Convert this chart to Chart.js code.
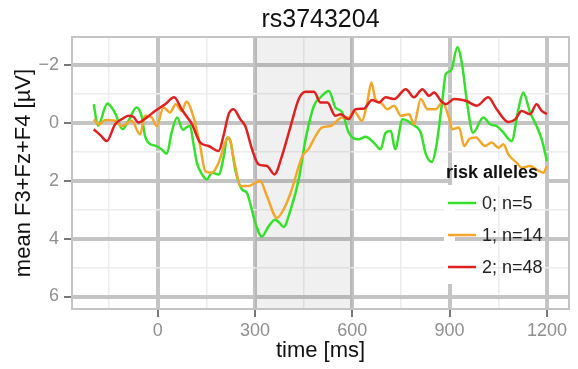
<!DOCTYPE html>
<html>
<head>
<meta charset="utf-8">
<script src="https://cdn.jsdelivr.net/npm/chart.js@4.4.1/dist/chart.umd.min.js"></script>
<style>
  html, body { margin: 0; padding: 0; background: #fff; }
  #wrap { width: 578px; height: 369px; position: relative; }
</style>
</head>
<body>
<div id="wrap"><canvas id="erpChart"></canvas></div>
<script>
// ERP traces (time in ms, amplitude in µV)
const greenTime = [-197,-184,-155,-132,-108,-90,-65,-49,-39,-29,-5,12,28,43,60,78,88,100,110,121,135,152,167,188,205,214,224,239,260,275,288,301,321,342,362,375,388,410,435,456,482,502,528,548,569,589,620,641,666,687,703,719,732,755,770,785,811,827,845,859,878,888,904,924,939,955,972,1004,1025,1045,1066,1091,1112,1127,1148,1168,1184,1200];
const greenAmp = [-0.63,0.11,-0.66,-0.34,0.23,-0.06,-0.52,-0.2,0.46,0.69,0.81,0.92,1.08,0.35,-0.17,0.25,0.17,0.12,0.7,1.39,1.75,1.96,1.73,1.79,1.1,0.52,0.63,1.62,2.31,2.42,2.9,3.46,3.93,3.58,3.35,3.45,3.6,3.0,1.96,0.58,-0.58,-0.87,-1.09,-0.52,-0.35,0.35,0.58,0.49,0.69,0.92,0.35,0.29,0.92,-0.11,-0.06,0.06,0.35,1.10,1.36,0.81,-0.81,-1.67,-1.79,-2.60,-1.96,-0.58,0.35,-0.17,0.06,0.12,0.35,0.64,-0.46,-1.04,-0.35,0.12,0.58,1.33];

const orangeTime = [-197,-180,-162,-131,-111,-80,-54,-39,-18,-3,18,38,56,74,89,111,131,147,167,188,208,219,239,255,280,301,316,337,368,388,410,446,466,487,507,533,569,589,605,630,646,659,671,690,708,729,750,775,790,811,832,857,878,898,908,929,945,960,981,1009,1030,1050,1066,1081,1107,1122,1148,1168,1189,1200];
const orangeAmp = [-0.11,0.06,-0.09,-0.06,0.12,-0.06,0.41,-0.23,-0.17,0.12,-0.52,-0.35,-0.63,-0.40,-0.72,-0.17,0.81,1.68,1.73,1.39,0.69,0.52,1.50,2.19,2.19,2.08,2.02,2.54,3.29,3.0,2.42,1.16,0.90,0.46,0.17,0.12,-0.17,-0.17,-0.40,-0.06,-0.69,-1.38,-0.81,-0.66,-0.46,-0.58,-0.23,-0.29,0.06,-0.81,-0.46,-0.46,-0.69,-0.17,0.23,0.17,0.81,0.58,0.52,0.81,0.69,0.87,0.75,1.10,1.39,1.56,1.50,1.62,1.73,1.50];

const redTime = [-197,-175,-157,-131,-110,-90,-75,-59,-34,-8,23,51,74,90,106,131,157,188,203,219,234,255,270,291,311,337,360,383,410,435,456,482,502,523,548,564,589,610,636,661,682,703,729,765,790,816,837,852,873,888,914,950,984,1019,1045,1081,1102,1122,1148,1168,1184,1200];
const redAmp = [0.23,0.45,0.64,0.06,-0.12,-0.23,-0.2,0,-0.17,-0.40,-0.63,-0.87,-0.46,-0.2,0.06,0.69,0.81,0.98,0.46,-0.29,-0.46,-0.11,0.12,0.92,1.44,1.50,1.79,1.16,0.12,-0.81,-1.06,-1.06,-0.69,-0.69,-0.23,-0.29,-0.11,-0.46,-0.48,-0.78,-0.69,-0.87,-0.81,-1.15,-0.87,-1.15,-0.92,-1.04,-0.75,-0.63,-0.81,-0.75,-0.58,-0.87,-0.46,-0.02,-0.11,-0.40,-0.29,-0.63,-0.40,-0.29];

const seriesLabels = ['0; n=5', '1; n=14', '2; n=48'];
const seriesColors = ['#35e02a', '#f2a72c', '#de2020'];

const xMajorTicks = [0, 300, 600, 900, 1200];
const xMinorTicks = [-150, 150, 450, 750, 1050];
const yMajorTicks = [-2, 0, 2, 4, 6];
const yMinorTicks = [-1, 1, 3, 5];
const yTickLabels = ['\u22122', '0', '2', '4', '6'];
const shadeWindow = [300, 600];

const FONT = '"Liberation Sans", Arial, Helvetica, sans-serif';
Chart.defaults.font.family = FONT;

function toPoints(times, amps) {
    return times.map((t, i) => ({ x: t, y: amps[i] }));
}

function isMajor(ctx, majors) {
    return ctx.tick && majors.includes(ctx.tick.value);
}

// shaded window, panel frame, title and the ggplot-like legend
const decorPlugin = {
    id: 'decor',
    beforeDatasetsDraw(chart) {
        const { ctx, chartArea: a, scales: { x } } = chart;
        ctx.save();
        const x0 = x.getPixelForValue(shadeWindow[0]);
        const x1 = x.getPixelForValue(shadeWindow[1]);
        ctx.fillStyle = 'rgba(0,0,0,0.06)';
        ctx.fillRect(x0, a.top, x1 - x0, a.bottom - a.top);

        // legend background pieces (hide grid behind legend)
        ctx.fillStyle = '#fff';
        ctx.fillRect(444, 185, 11, 99);
        ctx.fillRect(452, 160, 93, 25);

        ctx.strokeStyle = '#c4c4c4';
        ctx.lineWidth = 2;
        ctx.strokeRect(a.left, a.top, a.right - a.left, a.bottom - a.top);
        ctx.restore();
    },
    afterDraw(chart) {
        const { ctx, chartArea: a } = chart;
        ctx.save();
        ctx.fillStyle = '#111';
        ctx.textAlign = 'center';
        ctx.textBaseline = 'middle';
        ctx.font = '25px ' + FONT;
        ctx.fillText('rs3743204', (a.left + a.right) / 2, 20);

        ctx.textAlign = 'left';
        ctx.font = 'bold 18px ' + FONT;
        ctx.fillText('risk alleles', 446, 173);

        ctx.font = '18px ' + FONT;
        seriesLabels.forEach((lbl, i) => {
            const y = 203 + 32 * i;
            ctx.strokeStyle = seriesColors[i];
            ctx.lineWidth = 2.5;
            ctx.beginPath();
            ctx.moveTo(448, y);
            ctx.lineTo(476, y);
            ctx.stroke();
            ctx.fillStyle = '#222';
            ctx.fillText(lbl, 482, y + 1);
        });
        ctx.restore();
    }
};

function makeDataset(label, times, amps, color, order) {
    return {
        label: label,
        data: toPoints(times, amps),
        borderColor: color,
        backgroundColor: color,
        borderWidth: 2.5,
        pointRadius: 0,
        cubicInterpolationMode: 'monotone',
        fill: false,
        order: order
    };
}

new Chart(document.getElementById('erpChart'), {
    type: 'line',
    data: {
        datasets: [
            makeDataset(seriesLabels[0], greenTime, greenAmp, seriesColors[0], 2),
            makeDataset(seriesLabels[1], orangeTime, orangeAmp, seriesColors[1], 1),
            makeDataset(seriesLabels[2], redTime, redAmp, seriesColors[2], 0)
        ]
    },
    options: {
        responsive: true,
        maintainAspectRatio: false,
        animation: false,
        layout: { padding: { top: 37, right: 9, left: 0, bottom: 0 } },
        plugins: {
            legend: { display: false },
            tooltip: { enabled: false }
        },
        scales: {
            x: {
                type: 'linear',
                min: -264,
                max: 1268,
                afterBuildTicks: scale => {
                    scale.ticks = xMinorTicks.concat(xMajorTicks).sort((a, b) => a - b).map(v => ({ value: v }));
                },
                afterFit: scale => { scale.height = 60; },
                ticks: {
                    autoSkip: false,
                    maxRotation: 0,
                    padding: 3,
                    color: '#8f8f8f',
                    font: { size: 18 },
                    callback: v => xMajorTicks.includes(v) ? String(v) : ''
                },
                grid: {
                    color: ctx => isMajor(ctx, xMajorTicks) ? '#c4c4c4' : '#ececec',
                    lineWidth: ctx => isMajor(ctx, xMajorTicks) ? 4 : 1.5,
                    tickColor: ctx => isMajor(ctx, xMajorTicks) ? '#777' : 'rgba(0,0,0,0)',
                    tickWidth: 2,
                    tickLength: 8
                },
                border: { display: false },
                title: {
                    display: true,
                    text: 'time [ms]',
                    color: '#111',
                    font: { size: 22 },
                    padding: { top: 0, bottom: 5 }
                }
            },
            y: {
                type: 'linear',
                reverse: true,
                min: -2.95,
                max: 6.43,
                afterBuildTicks: scale => {
                    scale.ticks = yMinorTicks.concat(yMajorTicks).sort((a, b) => a - b).map(v => ({ value: v }));
                },
                afterFit: scale => { scale.width = 72; },
                ticks: {
                    autoSkip: false,
                    padding: 5,
                    color: '#8f8f8f',
                    font: { size: 18 },
                    callback: v => {
                        const i = yMajorTicks.indexOf(v);
                        return i >= 0 ? yTickLabels[i] : '';
                    }
                },
                grid: {
                    color: ctx => isMajor(ctx, yMajorTicks) ? '#c4c4c4' : '#ececec',
                    lineWidth: ctx => isMajor(ctx, yMajorTicks) ? 4 : 1.5,
                    tickColor: ctx => isMajor(ctx, yMajorTicks) ? '#777' : 'rgba(0,0,0,0)',
                    tickWidth: 2,
                    tickLength: 8
                },
                border: { display: false },
                title: {
                    display: true,
                    text: 'mean F3+Fz+F4 [\u00b5V]',
                    color: '#111',
                    font: { size: 22 },
                    padding: { top: 11, bottom: 0 }
                }
            }
        }
    },
    plugins: [decorPlugin]
});
</script>
</body>
</html>
